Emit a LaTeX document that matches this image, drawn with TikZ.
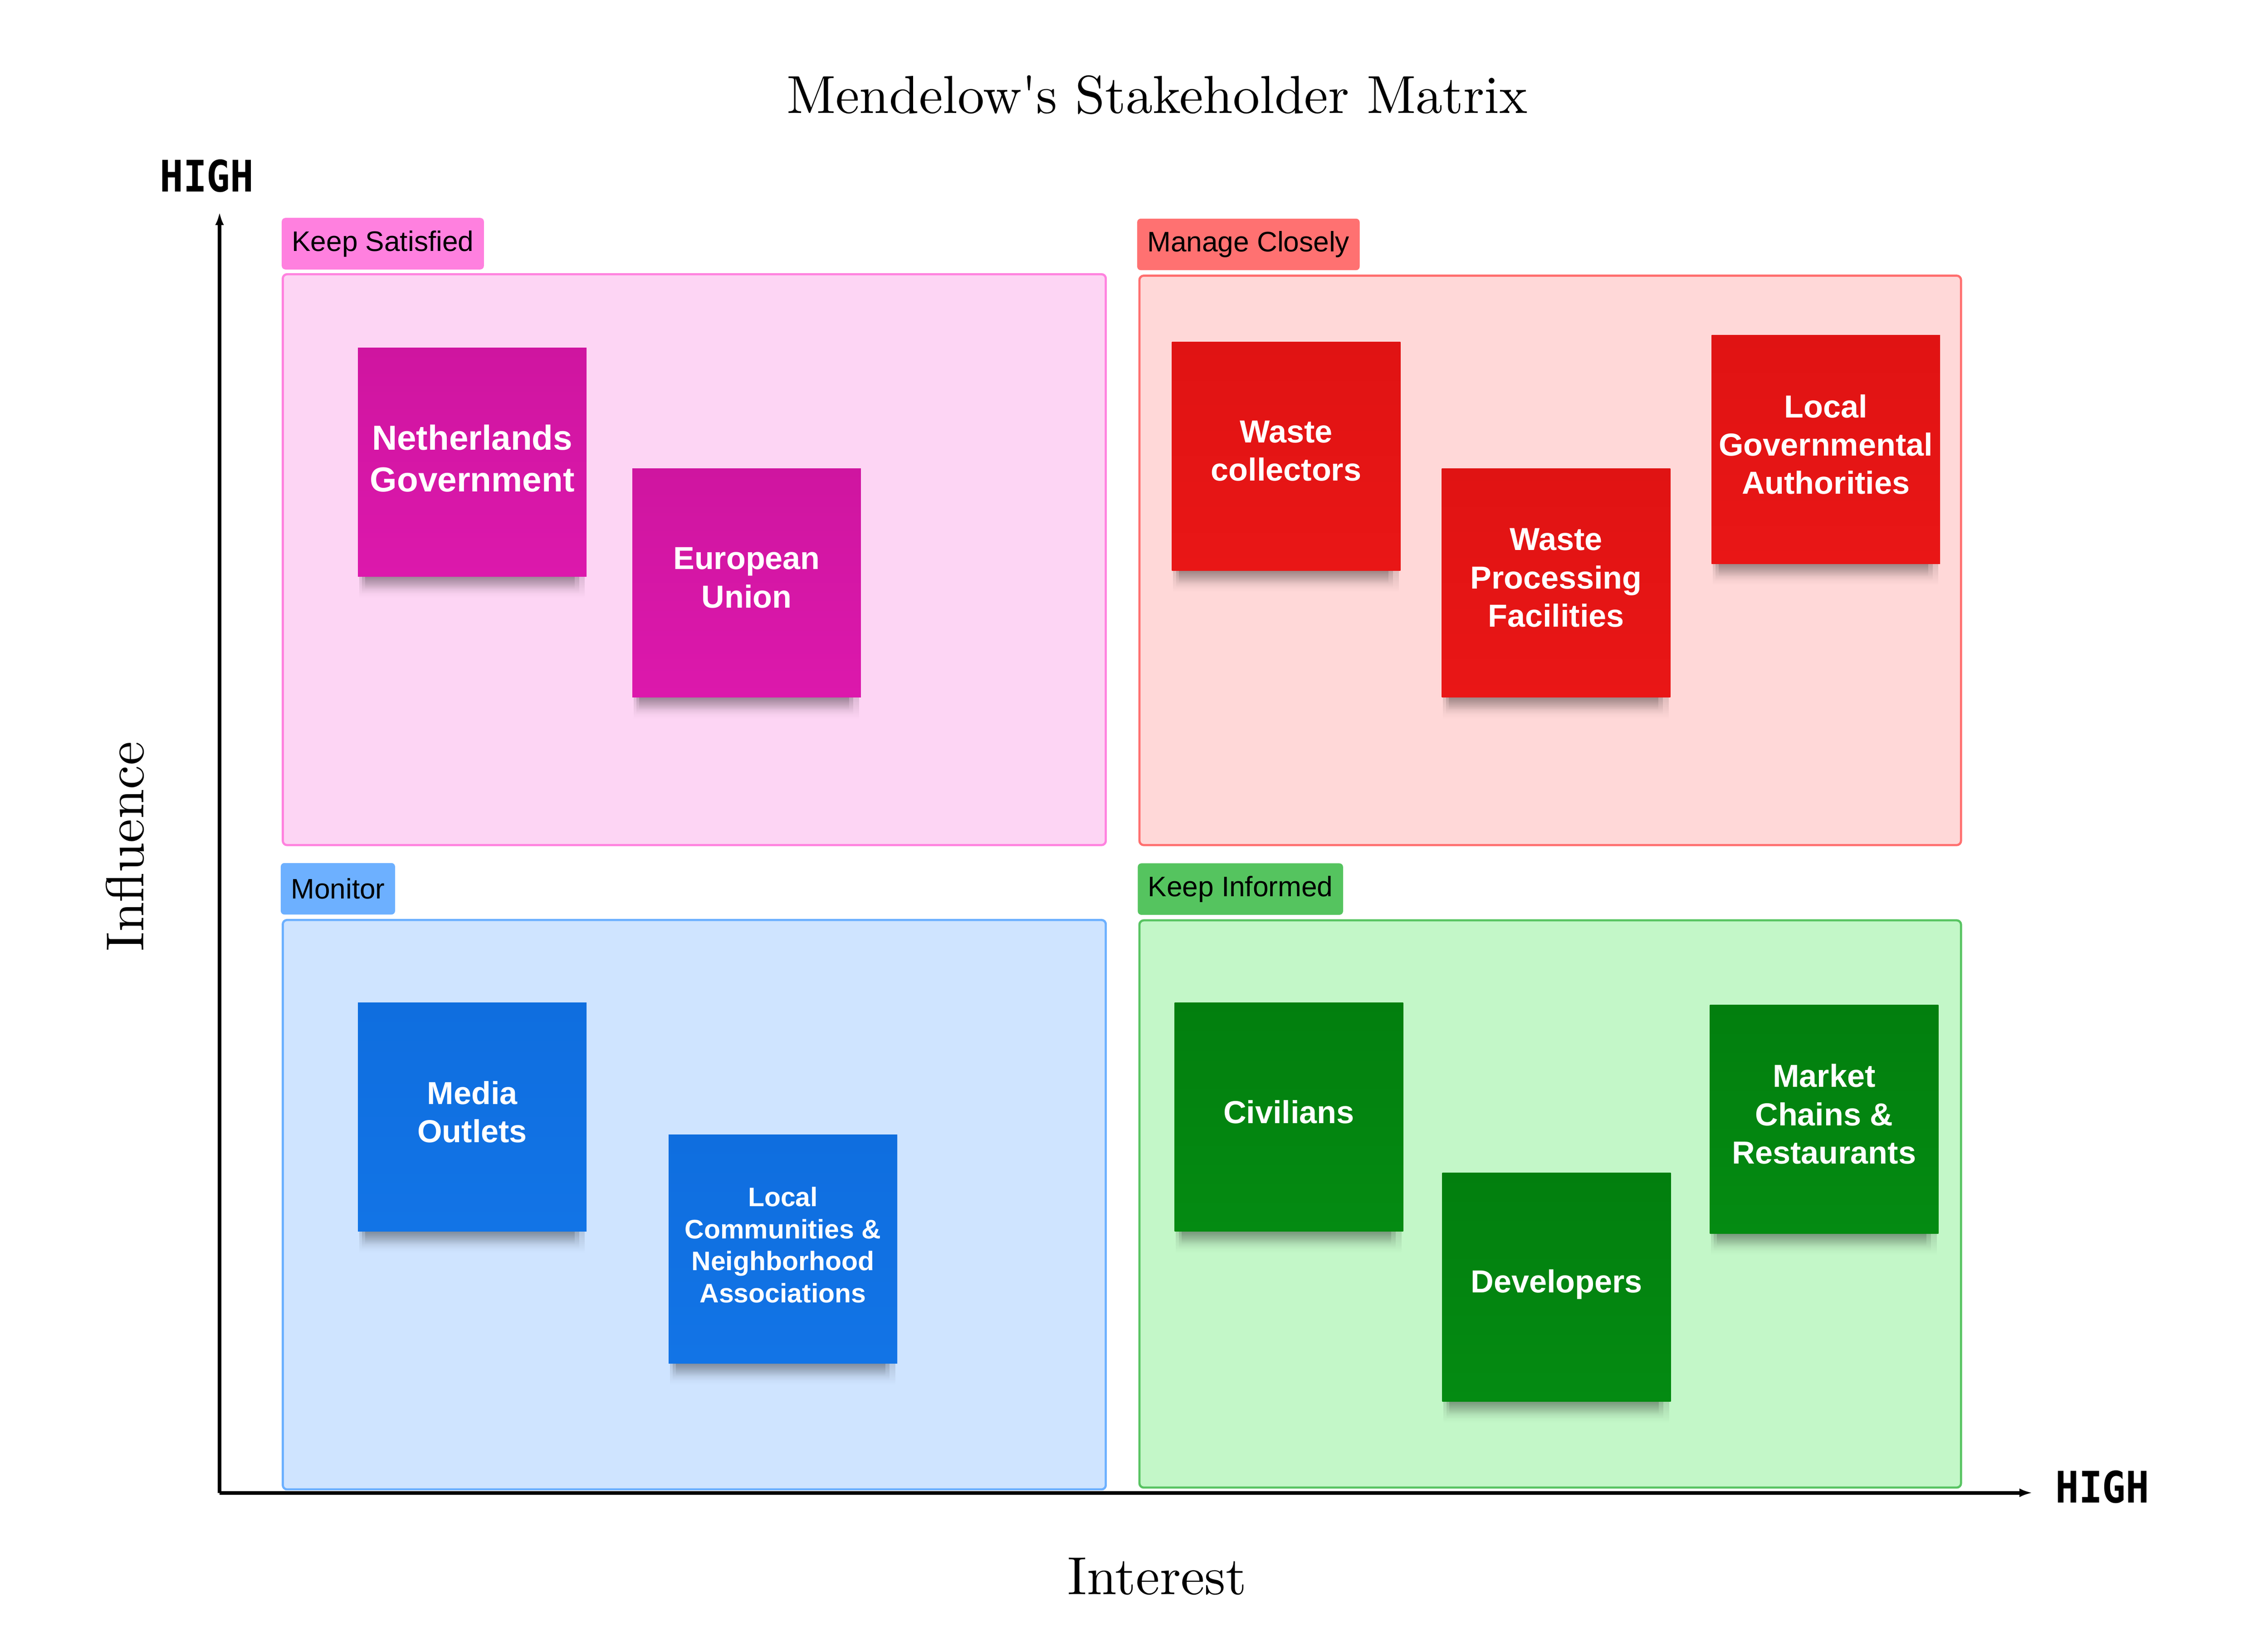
\documentclass[tikz,border=0pt]{standalone}
\usepackage{fontspec}
\usetikzlibrary{arrows.meta,fadings}
\newfontfamily\ArialF{Liberation Sans}
\newfontfamily\HighF{DejaVu Sans Mono}
\newfontfamily\LMten{lmroman10-regular.otf}
\definecolor{pinkFill}{HTML}{FDD5F4}
\definecolor{pinkLine}{HTML}{FF82DF}
\definecolor{pinkTag}{HTML}{FF80DF}
\definecolor{redFill}{HTML}{FFD8D8}
\definecolor{redLine}{HTML}{FF6F6F}
\definecolor{redTag}{HTML}{FF7171}
\definecolor{blueFill}{HTML}{CFE4FF}
\definecolor{blueLine}{HTML}{6CB0FF}
\definecolor{blueTag}{HTML}{6DB0FF}
\definecolor{greenFill}{HTML}{C3F7C8}
\definecolor{greenLine}{HTML}{58C462}
\definecolor{greenTag}{HTML}{55C45F}
\definecolor{magtop}{HTML}{CF15A0}
\definecolor{magbot}{HTML}{DC18AC}
\definecolor{redtop}{HTML}{E01313}
\definecolor{redbot}{HTML}{E91616}
\definecolor{bluetop}{HTML}{0F6EDF}
\definecolor{bluebot}{HTML}{1274E6}
\definecolor{greentop}{HTML}{027F0E}
\definecolor{greenbot}{HTML}{048B12}
\tikzfading[name=shfade, top color=transparent!0, bottom color=transparent!100]
\newcommand{\StickyNote}[7]{%
  \fill[black,opacity=.13,path fading=shfade] (#2+1,#3+158) rectangle (#2+157,#3+173);
  \fill[black,opacity=.15,path fading=shfade] (#2+3,#3+158) rectangle (#2+153,#3+170);
  \fill[black,opacity=.17,path fading=shfade] (#2+5,#3+158) rectangle (#2+150,#3+167);
  \node[note, top color=#4top, bottom color=#4bot] (#1) at (#2,#3) {};
  \node[#6] (#1-t) at ([yshift=#7pt]#1.center) {#5};
}
\begin{document}
\begin{tikzpicture}[x=1pt,y=-1pt,
  quad/.style={draw, line width=1.5pt, rounded corners=3pt, anchor=north west, inner sep=0pt},
  tagbox/.style={rounded corners=2.5pt, anchor=north west, inner xsep=7pt, inner ysep=0pt,
     minimum height=35.6pt, font=\ArialF\fontsize{19.5}{23}\selectfont, text=black},
  note/.style={rectangle, minimum width=158pt, minimum height=158pt, inner sep=0pt, anchor=north west},
  notetext/.style={text=white, align=center, inner sep=0pt, font=\ArialF\bfseries\fontsize{22}{26.4}\selectfont},
  notebig/.style={notetext, font=\ArialF\bfseries\fontsize{24}{29}\selectfont},
  notesmall/.style={notetext, font=\ArialF\bfseries\fontsize{18.5}{22.2}\selectfont},
  axis/.style={line width=2.5pt, -{Latex[length=9pt,width=6pt]}},
  axlabel/.style={font=\LMten\fontsize{37}{44}\selectfont, anchor=base, inner sep=0pt},
  high/.style={font=\HighF\bfseries\fontsize{30}{36}\selectfont, anchor=base, inner sep=0pt}]
\fill[white] (0,0) rectangle (1568,1140);
\useasboundingbox (0,0) rectangle (1568,1140);

% title and axis labels
\node[axlabel] (title) at (800,78.1) {Mendelow{\char"27}s Stakeholder Matrix};
\node[axlabel] (interest) at (800,1101.8) {Interest};
\node[axlabel, rotate=90] (influence) at (99.3,585) {Influence};
\node[high] (hightop) at (143,132.6) {\scalebox{0.9}[1]{HIGH}};
\node[high] (highright) at (1453.5,1038.6) {\scalebox{0.9}[1]{HIGH}};

% axes
\coordinate (O) at (151.8,1031.6);
\coordinate (Ytip) at (151.8,146.5);
\coordinate (Xtip) at (1405.2,1031.6);
\draw[axis] (O) -- (Ytip);
\draw[axis] (O) -- (Xtip);

% quadrants
\node[quad, draw=pinkLine, fill=pinkFill, minimum width=569pt, minimum height=394.5pt] (ks) at (194.75,188.75) {};
\node[quad, draw=redLine, fill=redFill, minimum width=568pt, minimum height=393.5pt] (mc) at (787,189.75) {};
\node[quad, draw=blueLine, fill=blueFill, minimum width=569pt, minimum height=393.5pt] (mon) at (194.75,635) {};
\node[quad, draw=greenLine, fill=greenFill, minimum width=568pt, minimum height=392pt] (ki) at (787,635.25) {};

% tags
\node[tagbox, fill=pinkTag] (ksTag) at (194.6,150.4) {Keep Satisfied};
\node[tagbox, fill=redTag] (mcTag) at (786,150.9) {Manage Closely};
\node[tagbox, fill=blueTag] (monTag) at (193.9,596.2) {Monitor};
\node[tagbox, fill=greenTag] (kiTag) at (786.4,596.4) {Keep Informed};

% sticky notes
\StickyNote{ng}{247.3}{240.1}{mag}{Netherlands\\Government}{notebig}{2.5}
\StickyNote{eu}{437}{323.6}{mag}{European\\Union}{notetext}{3.5}
\StickyNote{wc}{810}{236.2}{red}{Waste\\collectors}{notetext}{3.7}
\StickyNote{wpf}{996.6}{323.6}{red}{Waste\\Processing\\Facilities}{notetext}{3.5}
\StickyNote{lga}{1183.1}{231.4}{red}{Local\\Governmental\\Authorities}{notetext}{3.4}
\StickyNote{mo}{247.3}{692.8}{blue}{Media\\Outlets}{notetext}{3.5}
\StickyNote{lc}{462.1}{783.9}{blue}{Local\\Communities \&\\Neighborhood\\Associations}{notesmall}{2.8}
\StickyNote{civ}{811.9}{692.8}{green}{Civilians}{notetext}{3.5}
\StickyNote{dev}{996.9}{810.2}{green}{Developers}{notetext}{1.8}
\StickyNote{mcr}{1181.9}{694.2}{green}{Market\\Chains \&\\Restaurants}{notetext}{3.5}
\end{tikzpicture}
\end{document}
